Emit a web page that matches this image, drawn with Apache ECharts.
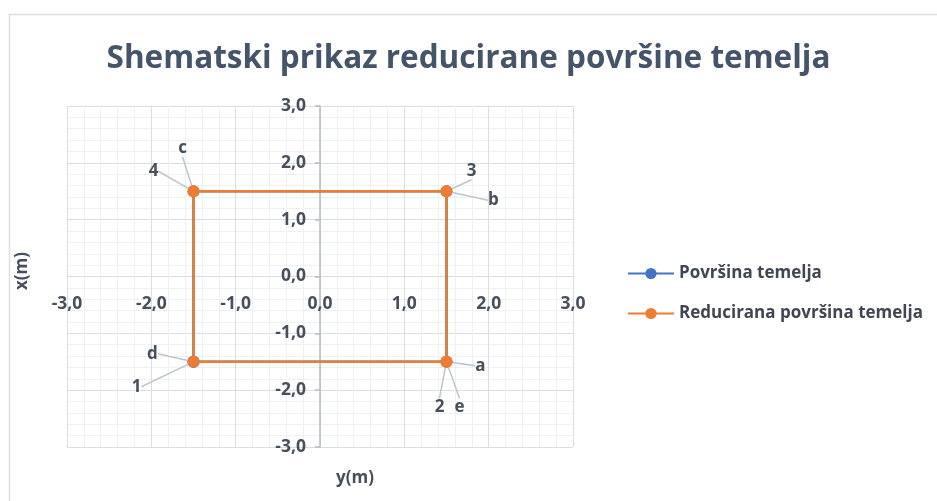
<!DOCTYPE html>
<html>
<head>
<meta charset="utf-8">
<script src="https://cdn.jsdelivr.net/npm/echarts@6/dist/echarts.min.js"></script>
<style>
  html, body { margin: 0; padding: 0; background: #ffffff; }
  #chart { width: 937px; height: 501px; }
</style>
</head>
<body>
<div id="chart"></div>
<script>
// Foundation outline: corner coordinates (y, x) in metres
const foundationPoints = [[-1.5, -1.5], [1.5, -1.5], [1.5, 1.5], [-1.5, 1.5], [-1.5, -1.5]];
const foundationLabels = ['1', '2', '3', '4', ''];

// Reduced foundation outline
const reducedPoints = [[1.5, -1.5], [1.5, 1.5], [-1.5, 1.5], [-1.5, -1.5], [1.5, -1.5]];
const reducedLabels = ['a', 'b', 'c', 'd', 'e'];

// Axis range and tick step
const axisMin = -3;
const axisMax = 3;
const axisStep = 1;

const seriesNames = ['Površina temelja', 'Reducirana površina temelja'];
const seriesColors = ['#4472C4', '#ED7D31'];

// Label offsets from each marker, in pixels
const foundationLabelOffsets = [[-57, 25], [-7, 45], [25, -20], [-40, -20], [0, 0]];
const reducedLabelOffsets = [[34, 4], [47, 9], [-11, -43], [-41, -8], [13, 45]];

const fmt = v => v.toFixed(1).replace('.', ',');
const textColor = '#474f5c';
const FONT = 'Open Sans';

function buildData(points, labels) {
  return points.map((p, i) => ({
    value: p,
    name: labels[i],
    label: { show: labels[i] !== '' },
    labelLine: { show: labels[i] !== '' }
  }));
}

function makeSeries(idx, points, labels, offsets) {
  return {
    name: seriesNames[idx],
    type: 'line',
    data: buildData(points, labels),
    symbol: 'circle',
    symbolSize: 12,
    showAllSymbol: true,
    z: 2 + idx,
    itemStyle: { color: seriesColors[idx] },
    lineStyle: { color: seriesColors[idx], width: 2.5 },
    label: {
      show: true,
      position: 'inside',
      formatter: p => p.name,
      color: textColor,
      fontFamily: FONT,
      fontWeight: 'bold',
      fontSize: 17
    },
    labelLine: {
      show: true,
      lineStyle: { color: '#bfc4cc', width: 1.5 }
    },
    labelLayout: params => ({
      dx: offsets[params.dataIndex][0],
      dy: offsets[params.dataIndex][1]
    }),
    emphasis: { disabled: true },
    animation: false
  };
}

const chart = echarts.init(document.getElementById('chart'), null, { renderer: 'canvas' });

// Plot area edges (px) and where the axis labels sit, next to the zero lines
const plotLeft = 67, plotRight = 573, plotTop = 106, plotBottom = 447;
const zeroX = (plotLeft + plotRight) / 2;
const zeroY = (plotTop + plotBottom) / 2;

chart.setOption({
  backgroundColor: '#ffffff',
  animation: false,
  title: {
    text: 'Shematski prikaz reducirane površine temelja',
    left: 'center',
    top: 38,
    textStyle: {
      fontFamily: FONT,
      fontWeight: 'bold',
      fontSize: 31.5,
      color: '#44546A'
    }
  },
  legend: {
    orient: 'vertical',
    left: 622,
    top: 260,
    itemWidth: 46,
    itemHeight: 14,
    itemGap: 23,
    data: seriesNames,
    textStyle: {
      fontFamily: FONT,
      fontWeight: 'bold',
      fontSize: 17,
      color: '#404652'
    }
  },
  grid: {
    left: plotLeft,
    right: 937 - plotRight,
    top: plotTop,
    bottom: 501 - plotBottom,
    containLabel: false
  },
  xAxis: {
    type: 'value',
    min: axisMin,
    max: axisMax,
    interval: axisStep,
    axisLine: { show: false },
    axisTick: { show: false },
    axisLabel: {
      formatter: fmt,
      margin: -(plotBottom - zeroY) + 19,
      color: textColor,
      fontFamily: FONT,
      fontWeight: 'bold',
      fontSize: 17.5
    },
    splitLine: { show: true, lineStyle: { color: '#dadde3', width: 1 } },
    minorTick: { show: false, splitNumber: 5 },
    minorSplitLine: { show: true, lineStyle: { color: '#eef0f3', width: 1 } }
  },
  yAxis: {
    type: 'value',
    min: axisMin,
    max: axisMax,
    interval: axisStep,
    axisLine: { show: true, onZero: true, lineStyle: { color: '#b4bcc8', width: 1.5 } },
    axisTick: { show: true, length: 5, lineStyle: { color: '#b4bcc8', width: 1.5 } },
    axisLabel: {
      formatter: fmt,
      margin: -(zeroX - plotLeft) + 14,
      color: textColor,
      fontFamily: FONT,
      fontWeight: 'bold',
      fontSize: 17.5
    },
    splitLine: { show: true, lineStyle: { color: '#dadde3', width: 1 } },
    minorTick: { show: false, splitNumber: 5 },
    minorSplitLine: { show: true, lineStyle: { color: '#eef0f3', width: 1 } }
  },
  graphic: [
    {
      type: 'rect',
      left: 7,
      top: 12,
      shape: { width: 960, height: 520 },
      style: { fill: 'none', stroke: '#dedede', lineWidth: 1.5 },
      silent: true,
      z: -1
    },
    {
      type: 'text',
      x: 355,
      y: 478,
      style: {
        text: 'y(m)',
        fill: textColor,
        font: 'bold 17px "Open Sans"',
        align: 'center',
        verticalAlign: 'middle'
      }
    },
    {
      type: 'text',
      x: 22,
      y: 271,
      rotation: Math.PI / 2,
      style: {
        text: 'x(m)',
        fill: textColor,
        font: 'bold 17px "Open Sans"',
        align: 'center',
        verticalAlign: 'middle'
      }
    }
  ],
  series: [
    makeSeries(0, foundationPoints, foundationLabels, foundationLabelOffsets),
    makeSeries(1, reducedPoints, reducedLabels, reducedLabelOffsets)
  ]
});
</script>
</body>
</html>
